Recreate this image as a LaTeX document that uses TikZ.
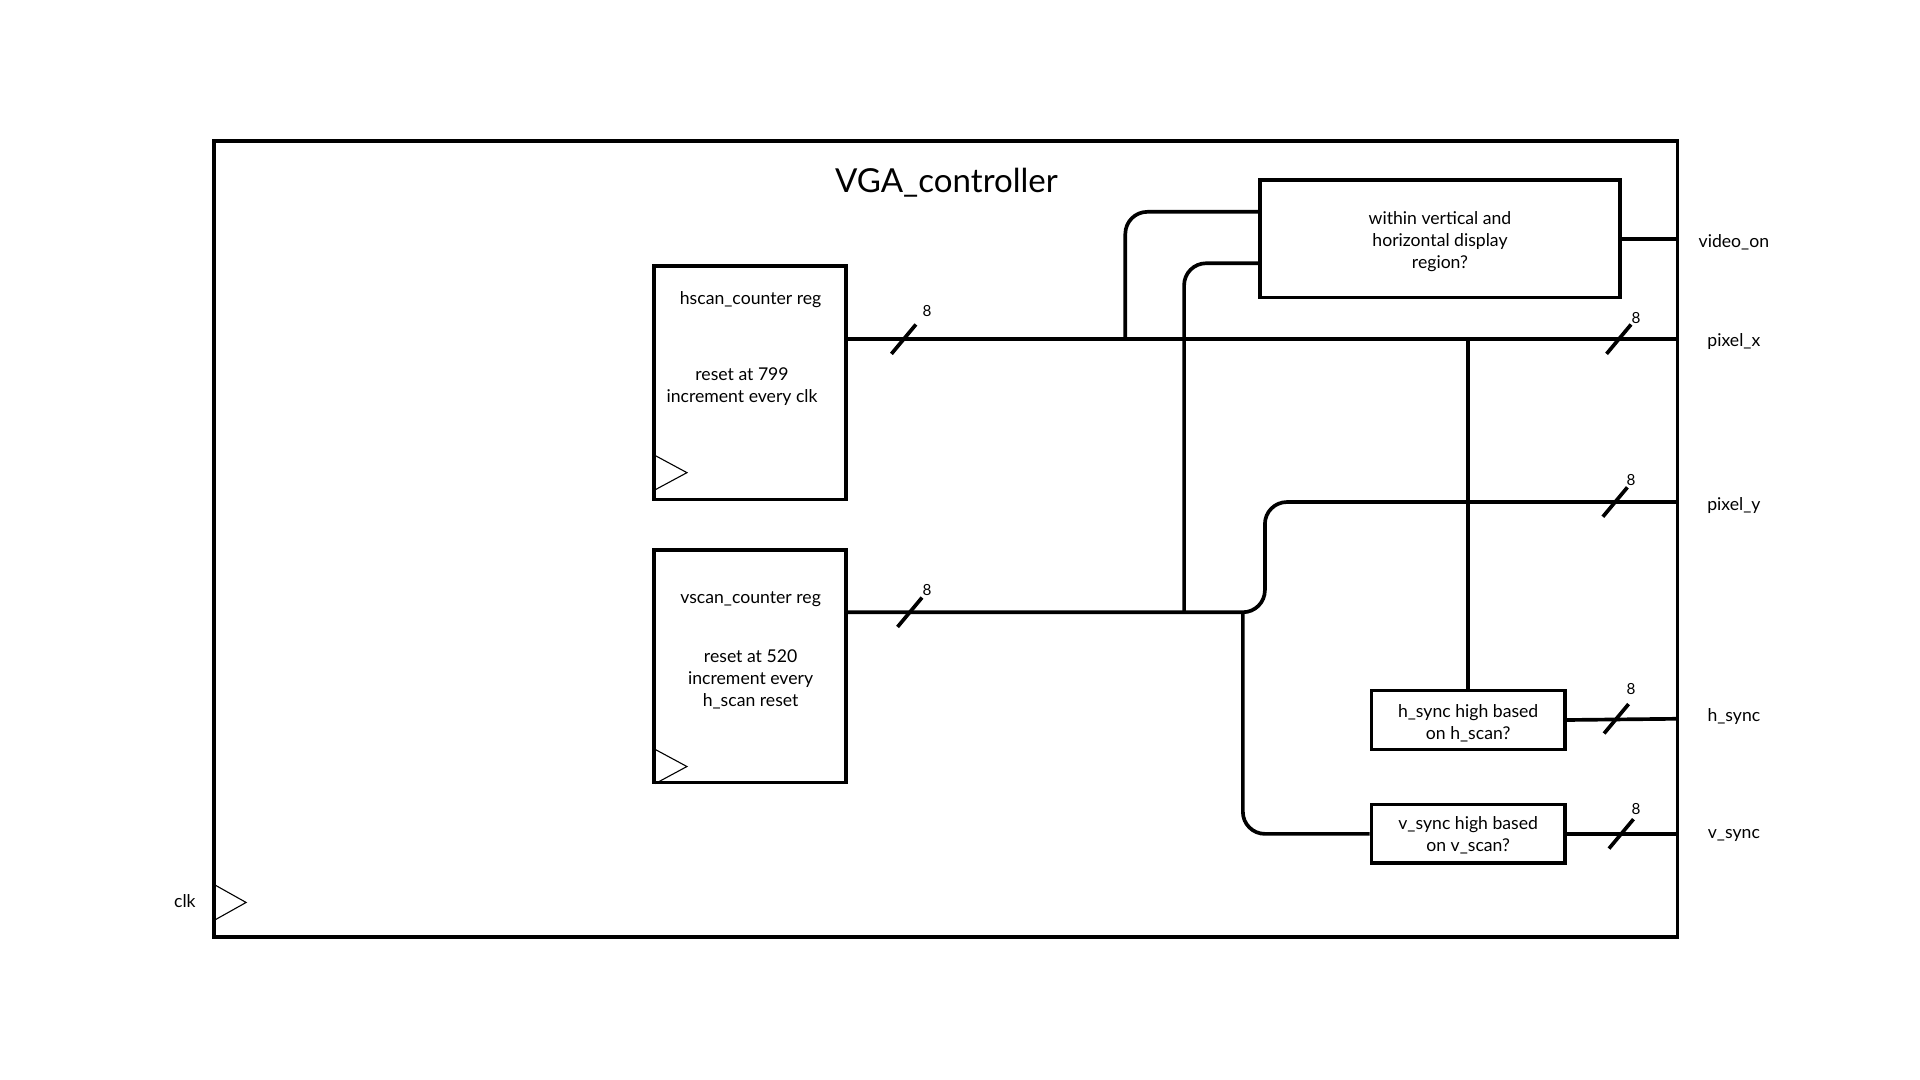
\documentclass[tikz,border=0pt]{standalone}
\usepackage{fontspec}
\setmainfont{Lato}
\usetikzlibrary{calc}
\begin{document}
\begin{tikzpicture}[x=1pt,y=-1pt,
  wire/.style={line width=3pt, line join=round},
  blk/.style={draw, line width=3pt, inner sep=0pt},
  lbl/.style={font=\fontsize{14.4}{18}\selectfont, align=center, inner sep=0pt, yshift=-1.5pt},
  boxtxt/.style={align=center, font=\fontsize{14.4}{18}\selectfont},
  num/.style={font=\fontsize{12.5}{14}\selectfont, inner sep=0pt, yshift=-1pt},
  clktri/.style={line width=0.9pt}]
\useasboundingbox (0,0) rectangle (1568,882);
% outer block
\node[blk, minimum width=1195pt, minimum height=650pt] (outer) at (772.5,440) {};
\node[font=\fontsize{27}{30}\selectfont, inner sep=0pt] (title) at (773,149) {VGA\_controller};
% registers
\node[blk, minimum width=157pt, minimum height=191pt] (hs) at (612.5,312.5) {};
\node[lbl] (hst) at (613,243) {hscan\_counter reg};
\node[lbl] (hsd) at (606,314) {reset at 799\\increment every clk};
\node[blk, minimum width=157pt, minimum height=190pt] (vs) at (612.5,544) {};
\node[lbl] (vst) at (613,488) {vscan\_counter reg};
\node[lbl] (vsd) at (613,553) {reset at 520\\increment every\\h\_scan reset};
% logic blocks
\node[blk, minimum width=294pt, minimum height=96pt] (vid) at (1176,195) {};
\node[lbl] (vidt) at (1176,196) {within vertical and\\horizontal display\\region?};
\node[blk, minimum width=158pt, minimum height=48pt] (hsy) at (1199,588) {};
\node[lbl] (hsyt) at (1199,589) {h\_sync high based\\on h\_scan?};
\node[blk, minimum width=158pt, minimum height=48pt] (vsy) at (1199,681) {};
\node[lbl] (vsyt) at (1199,681) {v\_sync high based\\on v\_scan?};
% clock triangles
\draw[clktri] (535,372) -- (561,386) -- (535,400);
\draw[clktri] (535,612) -- (561,626) -- (535,640);
\draw[clktri] (176,723) -- (201,737) -- (176,751);
\node[lbl] (clk) at (151,734) {clk};
% output coordinates
\coordinate (vio) at (1370,195);
\coordinate (pxo) at (1370,277);
\coordinate (pyo) at (1370,410);
\coordinate (hso) at (1370,587);
\coordinate (vso) at (1370,681);
\coordinate (hbus) at (919,277);
\coordinate (vbus) at (967,500);
\coordinate (vsplit) at (1015,500);
\coordinate (htap) at (1199,277);
% wires
\draw[wire] (hs.east |- pxo) -- (pxo);
\draw[wire, rounded corners=18pt] (hbus) |- ([yshift=22pt]vid.west);
\draw[wire, rounded corners=18pt] (vbus) |- ([yshift=-20pt]vid.west);
\draw[wire, rounded corners=18pt] (vs.east |- vbus) -- (1033,500) -- (1033,410) -- (pyo);
\draw[wire, rounded corners=18pt] (vsplit) |- (vsy.west);
\draw[wire] (htap) -- (hsy.north);
\draw[wire] (vid.east) -- (vio);
\draw[wire] (hsy.east) -- (hso);
\draw[wire] (vsy.east) -- (vso);
% bus slashes
\foreach \x/\y/\lx/\ly in {738/277/757/253, 1322/277/1336/259, 743/500/757/481, 1319/410/1332/391, 1320/587/1332/562, 1324/681/1336/660}{
  \draw[wire] (\x-10,\y+12) -- (\x+10,\y-12);
  \node[num] at (\lx,\ly) {8};
}
% output labels
\node[lbl] (lvo) at (1416,196) {video\_on};
\node[lbl] (lpx) at (1416,277) {pixel\_x};
\node[lbl] (lpy) at (1416,411) {pixel\_y};
\node[lbl] (lhs) at (1416,584) {h\_sync};
\node[lbl] (lvs) at (1416,681) {v\_sync};
\end{tikzpicture}
\end{document}
